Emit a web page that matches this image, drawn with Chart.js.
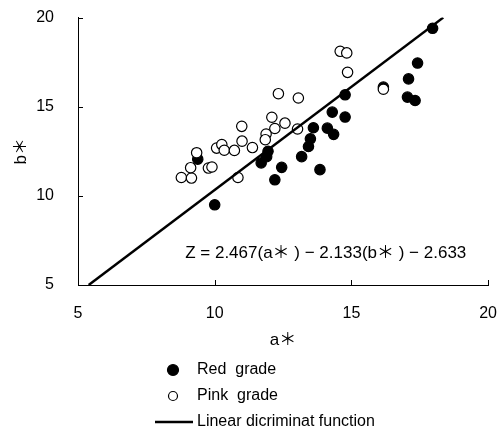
<!DOCTYPE html>
<html>
<head>
<meta charset="utf-8">
<script src="https://cdn.jsdelivr.net/npm/chart.js@4.4.1/dist/chart.umd.min.js"></script>
<style>
  html, body { margin: 0; padding: 0; background: #fff; overflow: hidden; }
  #wrap { position: relative; width: 504px; height: 432px; overflow: hidden; }
  #myScatter { position: absolute; left: 0; top: -8px; }
</style>
</head>
<body>
<div id="wrap"><canvas id="myScatter" width="508" height="440"></canvas></div>
<script>
// Red grade points (a*, b*)
const redA = [10.0, 9.38, 11.7, 11.9, 11.95, 12.45, 12.2, 13.18, 13.43, 13.5, 13.61, 13.85, 14.12, 14.35, 14.3, 14.77, 14.77, 16.17, 17.05, 17.33, 17.09, 17.42, 17.97];
const redB = [9.5, 12.06, 11.85, 12.2, 12.5, 11.6, 10.9, 12.2, 12.77, 13.2, 13.82, 11.47, 13.8, 13.45, 14.7, 14.42, 15.67, 16.1, 15.54, 15.35, 16.56, 17.45, 19.4];

// Pink grade points (a*, b*)
const pinkA = [8.78, 9.15, 9.12, 9.34, 9.77, 9.9, 10.07, 10.26, 10.35, 10.72, 10.99, 11.0, 11.38, 10.85, 12.33, 13.06, 12.09, 12.57, 12.2, 11.88, 11.85, 13.03, 14.59, 14.83, 14.86, 16.17];
const pinkB = [11.03, 11.0, 11.58, 12.42, 11.56, 11.62, 12.68, 12.88, 12.56, 12.55, 13.9, 13.07, 12.71, 11.03, 15.73, 15.49, 14.41, 14.08, 13.78, 13.47, 13.15, 13.75, 18.11, 18.02, 16.93, 15.98];

// Linear discriminant line end points
const lineA = [5.39, 18.36];
const lineB = [5, 20];

const axisTicks = [5, 10, 15, 20];
const equation = 'Z = 2.467(a\uFF0A ) \u2212 2.133(b\uFF0A ) \u2212 2.633';

function toPoints(xs, ys) {
    return xs.map(function (x, i) { return { x: x, y: ys[i] }; });
}

const FONT = "'Liberation Sans', 'Noto Sans CJK JP', sans-serif";

// inward ticks, equation text and the stacked legend
const extras = {
    id: 'extras',
    afterDraw: function (chart) {
        const ctx = chart.ctx;
        const xs = chart.scales.x, ys = chart.scales.y;
        const area = chart.chartArea;
        ctx.save();
        ctx.strokeStyle = '#000';
        ctx.lineWidth = 1;
        axisTicks.forEach(function (v) {
            const px = Math.round(xs.getPixelForValue(v)) + 0.5;
            ctx.beginPath();
            ctx.moveTo(px, area.bottom);
            ctx.lineTo(px, area.bottom - 5);
            ctx.stroke();
            const py = Math.round(ys.getPixelForValue(v)) + 0.5;
            ctx.beginPath();
            ctx.moveTo(area.left, py);
            ctx.lineTo(area.left + 5, py);
            ctx.stroke();
        });

        // equation
        ctx.fillStyle = '#000';
        ctx.font = '17px ' + FONT;
        ctx.textAlign = 'left';
        ctx.textBaseline = 'middle';
        ctx.fillText(equation, xs.getPixelForValue(8.92), ys.getPixelForValue(6.8));

        // legend, stacked under the x axis title
        const ds = chart.data.datasets;
        const textX = 197;
        const rows = [area.bottom + 85, area.bottom + 111, area.bottom + 137];
        ctx.font = '16px ' + FONT;
        ds.forEach(function (d, i) {
            const y = rows[i];
            if (d.type === 'line') {
                ctx.strokeStyle = d.borderColor;
                ctx.lineWidth = d.borderWidth;
                ctx.beginPath();
                ctx.moveTo(155, y);
                ctx.lineTo(193, y);
                ctx.stroke();
            } else {
                ctx.beginPath();
                ctx.arc(173, y, d.backgroundColor === '#000' ? 5.5 : 4.5, 0, Math.PI * 2);
                ctx.fillStyle = d.backgroundColor;
                ctx.fill();
                ctx.lineWidth = 1.2;
                ctx.strokeStyle = d.borderColor;
                ctx.stroke();
            }
            ctx.fillStyle = '#000';
            ctx.fillText(d.label, textX, y);
        });
        ctx.restore();
    }
};

const scatterChart = new Chart(document.getElementById('myScatter'), {
    type: 'scatter',
    data: {
        datasets: [{
            label: 'Red  grade',
            data: toPoints(redA, redB),
            backgroundColor: '#000',
            borderColor: '#000',
            borderWidth: 1.2,
            pointRadius: 5.2,
            order: 2
        }, {
            label: 'Pink  grade',
            data: toPoints(pinkA, pinkB),
            backgroundColor: '#fff',
            borderColor: '#000',
            borderWidth: 1.2,
            pointRadius: 5.2,
            order: 1
        }, {
            type: 'line',
            label: 'Linear dicriminat function',
            data: toPoints(lineA, lineB),
            borderColor: '#000',
            borderWidth: 2.5,
            pointRadius: 0,
            fill: false,
            order: 0
        }]
    },
    options: {
        responsive: false,
        animation: false,
        layout: { padding: { left: 0, right: 16, top: 18, bottom: 81 } },
        plugins: {
            legend: { display: false },
            tooltip: { enabled: false }
        },
        scales: {
            x: {
                type: 'linear',
                min: 5,
                max: 20,
                afterBuildTicks: function (s) { s.ticks = axisTicks.map(function (v) { return { value: v }; }); },
                afterFit: function (s) { s.height = 66; },
                grid: { display: false },
                border: { display: true, color: '#000', width: 1 },
                ticks: { color: '#000', padding: 11, font: { family: FONT, size: 16 } },
                title: { display: true, text: 'a\uFF0A', color: '#000', padding: { top: 6, bottom: 0 }, font: { family: FONT, size: 17 } }
            },
            y: {
                type: 'linear',
                min: 5,
                max: 20,
                afterBuildTicks: function (s) { s.ticks = axisTicks.map(function (v) { return { value: v }; }); },
                afterFit: function (s) { s.width = 78; },
                grid: { display: false },
                border: { display: true, color: '#000', width: 1 },
                ticks: { color: '#000', padding: 16, font: { family: FONT, size: 16 } },
                title: { display: true, text: 'b\uFF0A', color: '#000', padding: { top: 11, bottom: 0 }, font: { family: FONT, size: 17 } }
            }
        }
    },
    plugins: [extras]
});
</script>
</body>
</html>
